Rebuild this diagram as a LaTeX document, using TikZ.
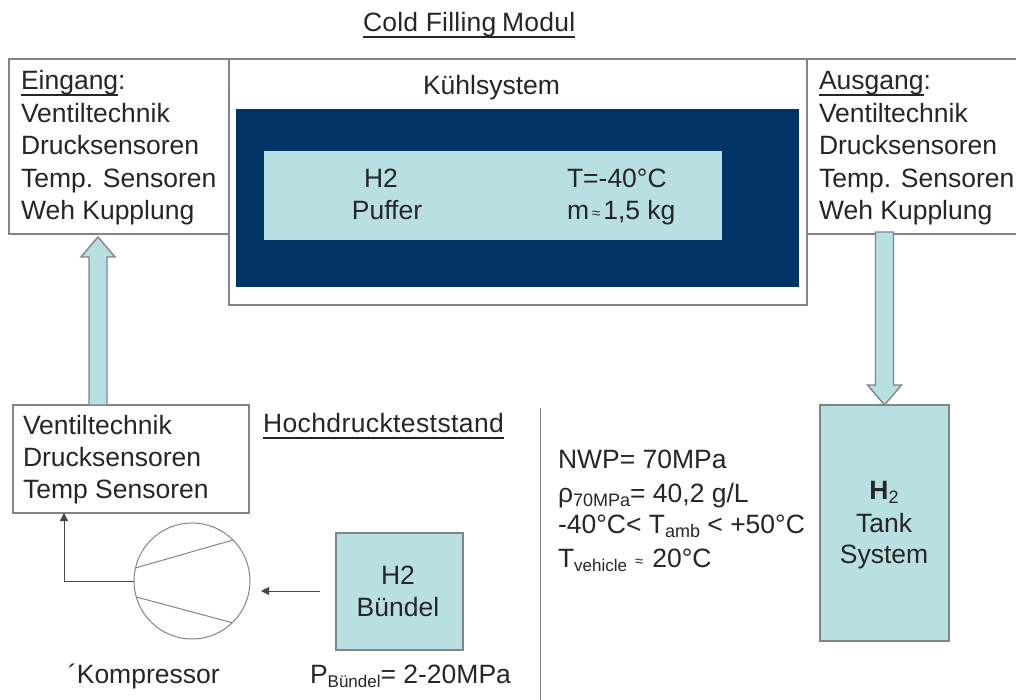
\documentclass[tikz,border=0pt]{standalone}
\usepackage{fontspec}
\setmainfont{Liberation Sans}
\newfontfamily\spacedfont[LetterSpace=1.5]{Liberation Sans}
\newfontfamily\slightfont[LetterSpace=0.9]{Liberation Sans}
\usetikzlibrary{calc,arrows.meta}
\definecolor{lightc}{HTML}{B8DFE2}
\definecolor{darkc}{HTML}{003366}
\definecolor{linec}{HTML}{808585}
\definecolor{textc}{HTML}{262626}
\newsavebox{\ulbox}
\newlength{\ulwd}
\newcommand{\ulin}[1]{\leavevmode\sbox{\ulbox}{#1}\setlength{\ulwd}{\wd\ulbox}\rlap{\textcolor{textc}{\rule[-6pt]{\ulwd}{1.6pt}}}#1}
\newcommand{\lowtxt}[1]{\raisebox{-4.5pt}{\fontsize{18}{18}\selectfont #1}}
\newcommand{\lowsmall}[1]{\raisebox{-4.5pt}{\fontsize{17}{17}\selectfont #1}}
\newcommand{\smallapprox}{{\fontsize{15}{15}\selectfont\raisebox{1pt}{≈}}}
\newcommand{\fatarrow}[2]{%
  \coordinate (h) at ($(#2)!20pt!(#1)$);
  \draw[fatline] ($(#1)!9pt!90:(#2)$) -- ($(h)!9pt!90:(#2)$) -- ($(h)!17pt!90:(#2)$) -- (#2)
    -- ($(h)!17pt!-90:(#2)$) -- ($(h)!9pt!-90:(#2)$) -- ($(#1)!9pt!-90:(#2)$) -- cycle;}
\tikzset{
  box/.style={draw=linec,line width=1.4pt,fill=white,inner sep=0pt,outer sep=0pt},
  lightbox/.style={box,fill=lightc},
  darkbox/.style={box,draw=darkc,fill=darkc},
  txt/.style={inner sep=0pt,outer sep=0pt,text=textc,font=\fontsize{26.5}{32.5}\selectfont,anchor=base west,align=left},
  ctxt/.style={txt,anchor=base,align=center},
  fatline/.style={draw=linec,line width=1.4pt,fill=lightc,line join=miter},
  conn/.style={draw=textc!85,line width=0.9pt,-{Triangle[width=8pt,length=8pt]}},
  thin line/.style={draw=linec,line width=1pt}
}
\begin{document}
\begin{tikzpicture}[x=1pt,y=-1pt]
\useasboundingbox (0,0) rectangle (1016,700);
% upper row
\node[box,minimum width=578,minimum height=246] (kuehl) at (518,182) {};
\node[box,minimum width=220,minimum height=175] (ein) at (119,146.5) {};
\node[box,minimum width=215,minimum height=175] (aus) at (914.5,146.5) {};
\node[darkbox,minimum width=561,minimum height=176] (dark) at (517.5,198) {};
\node[box,draw=none,fill=lightc,minimum width=458,minimum height=89] (puffer) at (493,195.5) {};
% lower row
\node[box,minimum width=236,minimum height=108] (vb) at (131,459) {};
\node[lightbox,minimum width=127,minimum height=117] (bun) at (399.5,591.5) {};
\node[lightbox,minimum width=129,minimum height=236] (tank) at (884.5,523) {};
\node[circle,draw=linec,line width=1pt,fill=white,minimum size=116,inner sep=0pt,outer sep=0pt] (comp) at (192,581) {};
% compressor chords
\draw[thin line] (comp.167) -- (comp.45);
\draw[thin line] (comp.196) -- (comp.-46);
% block arrows
\coordinate (upx) at (98,300);
\coordinate (downx) at (884.5,300);
\coordinate (upS) at (vb.north -| upx);
\coordinate (upE) at ($(ein.south -| upx)+(0,3)$);
\coordinate (downS) at ($(aus.south -| downx)+(0,-2)$);
\coordinate (downE) at (tank.north);
\fatarrow{upS}{upE}
\fatarrow{downS}{downE}
% connectors
\coordinate (cx) at (64,600);
\draw[conn] (comp.west) -| (vb.south -| cx);
\coordinate (bunOut) at (320,591);
\coordinate (compIn) at (261,591);
\draw[conn] (bunOut) -- (compIn);
% separator
\coordinate (sepA) at (540,408);
\coordinate (sepB) at (540,700);
\draw[thin line] (sepA) -- (sepB);
% texts
\node[txt] (title) at (363,32) {\ulin{\slightfont Cold Filling\hspace{-2pt} Modul}};
\node[txt] (kt) at (423,95) {Kühlsystem};
\node[txt] (eint) at (21,90) {\ulin{Eingang}:};
\node[txt] (ei1) at (21,122.5) {Ventiltechnik};
\node[txt] (ei2) at (21,155) {Drucksensoren};
\node[txt] (ei3) at (21,187.5) {Temp. Sensoren};
\node[txt] (ei4) at (21,220) {Weh Kupplung};
\node[txt] (aust) at (819,90) {\ulin{Ausgang}:};
\node[txt] (au1) at (819,122.5) {Ventiltechnik};
\node[txt] (au2) at (819,155) {Drucksensoren};
\node[txt] (au3) at (819,187.5) {Temp. Sensoren};
\node[txt] (au4) at (819,220) {Weh Kupplung};
\node[ctxt] (pa) at (381,188) {H2};
\node[ctxt] (pb) at (387,220) {Puffer};
\node[txt] (pc) at (567,188) {T=-40°C};
\node[txt] (pd) at (567,220) {m\hspace{3pt}\smallapprox\hspace{3pt}1,5 kg};
\node[txt] (v1) at (23,434) {Ventiltechnik};
\node[txt] (v2) at (23,466) {Drucksensoren};
\node[txt] (v3) at (23,498) {Temp Sensoren};
\node[txt] (ht) at (263,432.5) {\ulin{\spacedfont Hochdruckteststand}};
\node[ctxt] (ba) at (398,584) {H2};
\node[ctxt] (bb) at (398,616) {Bündel};
\node[txt] (kom) at (68,683) {´Kompressor};
\node[txt] (pbu) at (310,683) {P\lowsmall{Bündel}= 2-20MPa};
\node[txt] (n1) at (558,468) {NWP= 70MPa};
\node[txt] (n2) at (558,502) {ρ\lowtxt{70MPa}= 40,2 g/L};
\node[txt] (n3) at (558,533) {-40°C< T\lowtxt{amb} < +50°C};
\node[txt] (n4) at (558,567) {T\lowsmall{vehicle}\hspace{8pt}\smallapprox\hspace{9pt}20°C};
\node[ctxt] (ta) at (884,499) {\textbf{H}\lowtxt{2}};
\node[ctxt] (tb) at (884,532) {Tank};
\node[ctxt] (tc) at (884,563) {System};
\end{tikzpicture}
\end{document}
